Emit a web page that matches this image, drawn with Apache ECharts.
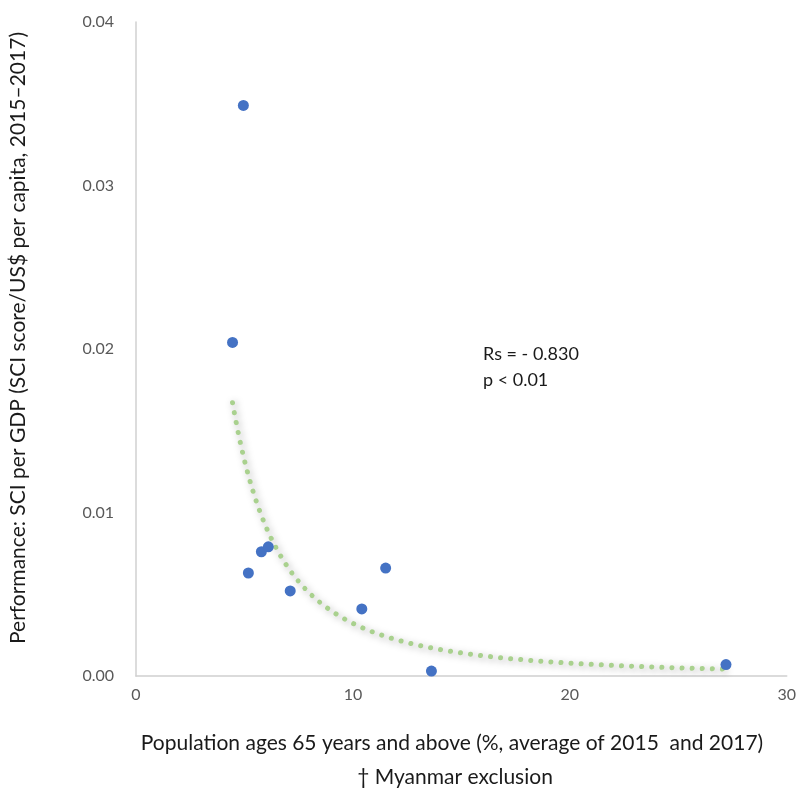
<!DOCTYPE html>
<html><head><meta charset="utf-8">
<script src="https://cdn.jsdelivr.net/npm/echarts@6/dist/echarts.min.js"></script>
<style>html,body{margin:0;padding:0;background:#fff}#c{width:799px;height:789px}</style>
</head><body><div id="c"></div>
<script>
const popAge65 = [4.95, 4.45, 5.18, 5.78, 6.10, 7.11, 10.41, 11.51, 13.62, 27.2];
const sciPerGdp = [0.0349, 0.0204, 0.0063, 0.0076, 0.0079, 0.0052, 0.0041, 0.0066, 0.0003, 0.0007];
const xTicks = [0, 10, 20, 30];
const yTicks = [0, 0.01, 0.02, 0.03, 0.04];
const annotation = ['Rs = - 0.830', 'p < 0.01'];
const xTitle = 'Population ages 65 years and above (%, average of 2015  and 2017)';
const yTitle = 'Performance: SCI per GDP (SCI score/US$ per capita, 2015\u20132017)';
const footnote = '\u2020 Myanmar exclusion';

// power trendline (least squares in log space), like a spreadsheet power fit
const n = popAge65.length;
const lx = popAge65.map(Math.log), ly = sciPerGdp.map(Math.log);
const mx = lx.reduce((a,b)=>a+b,0)/n, my = ly.reduce((a,b)=>a+b,0)/n;
let sxy=0, sxx=0;
for (let i=0;i<n;i++){ sxy+=(lx[i]-mx)*(ly[i]-my); sxx+=(lx[i]-mx)**2; }
const b = sxy/sxx, a = Math.exp(my - b*mx);
const xmin = Math.min(...popAge65), xmax = Math.max(...popAge65);
const trend = [];
for (let i=0;i<=200;i++){ const x = xmin + (xmax-xmin)*i/200; trend.push([x, a*Math.pow(x,b)]); }

const FONT = 'Lato, "Open Sans", sans-serif';
const chart = echarts.init(document.getElementById('c'));
chart.setOption({
  animation:false,
  textStyle:{fontFamily:FONT},
  grid:{left:136, right:8, top:22, bottom:113},
  xAxis:{type:'value', min:0, max:30, interval:10,
    axisLine:{show:true, lineStyle:{color:'#d0d0d0', width:1.5}},
    axisTick:{show:false}, splitLine:{show:false},
    axisLabel:{color:'#595959', fontSize:16, margin:11, fontFamily:FONT}},
  yAxis:{type:'value', min:0, max:0.04, interval:0.01,
    axisLine:{show:true, lineStyle:{color:'#d0d0d0', width:1.5}},
    axisTick:{show:false}, splitLine:{show:false},
    axisLabel:{color:'#595959', fontSize:16, margin:22, fontFamily:FONT, formatter:v=>v.toFixed(2)}},
  graphic:[
    {type:'text', x:452, y:743, style:{text:xTitle, fontSize:21, fill:'#1a1a1a', fontFamily:FONT, align:'center', verticalAlign:'middle'}},
    {type:'text', x:455, y:777, style:{text:footnote, fontSize:21, fill:'#1a1a1a', fontFamily:FONT, align:'center', verticalAlign:'middle'}},
    {type:'text', x:18, y:338, rotation:Math.PI/2, style:{text:yTitle, fontSize:21, fill:'#1a1a1a', fontFamily:FONT, align:'center', verticalAlign:'middle'}},
    {type:'text', x:483, y:341, style:{text:annotation.join('\n'), fontSize:18, lineHeight:26, fill:'#1a1a1a', fontFamily:FONT}}
  ],
  series:[
    {type:'line', data:trend, showSymbol:false, smooth:false, silent:true,
      lineStyle:{color:'#a9d18e', width:5, type:[0.1,10], cap:'round', shadowColor:'rgba(0,0,0,0.35)', shadowBlur:7, shadowOffsetX:2, shadowOffsetY:2}, z:1},
    {type:'scatter', data:popAge65.map((x,i)=>[x, sciPerGdp[i]]), symbolSize:11,
      itemStyle:{color:'#4472c4', opacity:1}, z:3}
  ]
});
</script></body></html>
